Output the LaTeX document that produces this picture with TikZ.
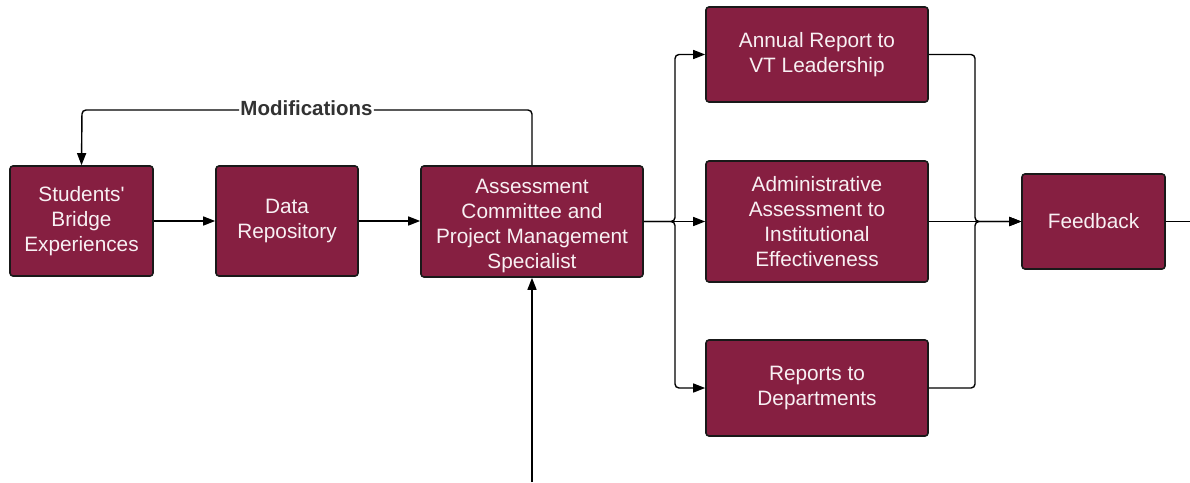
\documentclass[tikz,border=0pt]{standalone}
\usepackage{fontspec}
\setmainfont{Liberation Sans}
\usetikzlibrary{arrows.meta}
\definecolor{maroon}{RGB}{134,31,65}
\definecolor{boxtext}{RGB}{248,240,243}
\definecolor{labelgray}{RGB}{50,50,50}
\tikzset{
  procbox/.style={draw=black!90, line width=1.6pt, fill=maroon, rounded corners=3pt,
    text=boxtext, align=center, inner sep=0pt, font=\fontsize{20.8}{25}\selectfont},
  conn/.style={line width=1.4pt, rounded corners=4pt, -{Triangle[length=12pt,width=9pt]}},
  plain/.style={line width=1.4pt, rounded corners=4pt}
}
\begin{document}
\begin{tikzpicture}[x=1pt,y=-1pt]
\useasboundingbox (0,0) rectangle (1190,482);
\node[procbox, minimum width=143pt, minimum height=110pt] (stu) at (81.5,221) {Students\textquotesingle\\Bridge\\Experiences};
\node[procbox, minimum width=142pt, minimum height=110pt] (data) at (287,221) {Data\\Repository};
\node[procbox, minimum width=222pt, minimum height=111pt] (ac) at (532,221.5) {\rule{0pt}{23pt}Assessment\\Committee and\\Project Management\\Specialist};
\node[procbox, minimum width=222pt, minimum height=95pt] (ann) at (817,54.5) {Annual Report to\\VT Leadership};
\node[procbox, minimum width=222pt, minimum height=121pt] (adm) at (817,221.5) {Administrative\\Assessment to\\Institutional\\Effectiveness};
\node[procbox, minimum width=222pt, minimum height=96pt] (rep) at (817,388) {Reports to\\Departments};
\node[procbox, minimum width=143pt, minimum height=95pt] (fb) at (1093.5,221.5) {Feedback};
\coordinate (out) at (1190,221.5);
\coordinate (bot) at (532,482);
\coordinate (modL) at (82,110);
\coordinate (modR) at (532,110);
\node[font=\fontsize{20.5}{24}\bfseries\selectfont, text=labelgray, fill=white, inner sep=1pt] (modlbl) at (306.5,108) {Modifications};

\draw[conn] (stu.east) -- (data.west);
\draw[conn] (data.east) -- (ac.west |- data.east);
\draw[conn] (ac.east) -- (adm.west);
\draw[conn] (ac.east) -- (675,221.5) |- (ann.west);
\draw[conn] (ac.east) -- (675,221.5) |- (rep.west);
\draw[conn] (adm.east) -- (fb.west);
\draw[conn] (ann.east) -- (975,54.5) |- (fb.west);
\draw[conn] (rep.east) -- (975,388) |- (fb.west);
\draw[plain] (fb.east) -- (out);
\draw[conn] (bot) -- (ac.south);
\draw[plain] (ac.north) -- (modR) -- (modlbl.east |- modR);
\draw[conn] (modlbl.west |- modL) -- (modL) -- (stu.north);
\end{tikzpicture}
\end{document}
